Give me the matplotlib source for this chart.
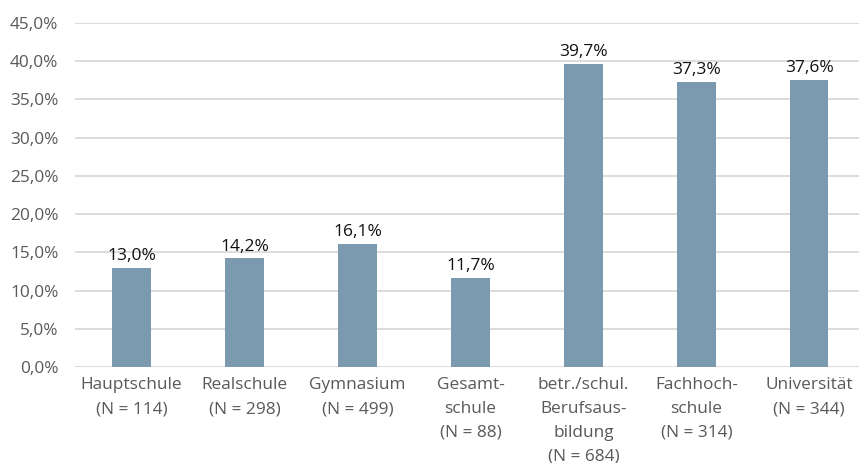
import matplotlib.pyplot as plt
from matplotlib.ticker import FuncFormatter

# Data
categories = ['Hauptschule\n(N = 114)', 'Realschule\n(N = 298)', 'Gymnasium\n(N = 499)',
              'Gesamt-\nschule\n(N = 88)', 'betr./schul.\nBerufsaus-\nbildung\n(N = 684)',
              'Fachhoch-\nschule\n(N = 314)', 'Universität\n(N = 344)']
values = [13.0, 14.2, 16.1, 11.7, 39.7, 37.3, 37.6]
y_ticks = [0, 5, 10, 15, 20, 25, 30, 35, 40, 45]

plt.rcParams['font.family'] = ['Open Sans', 'DejaVu Sans']

fig = plt.figure(figsize=(8.59, 4.63), dpi=100)
ax = fig.add_axes([75 / 859, 1 - 367 / 463, 1 - 75 / 859, (367 - 23) / 463])

x = range(len(values))
ax.bar(x, values, width=0.34, color='#7B9AB0', zorder=3)

# Value labels above bars
for i, v in enumerate(values):
    ax.text(i, v + 0.5, f'{v:.1f}%'.replace('.', ','), ha='center', va='bottom',
            fontsize=12.5, color='#111111')

ax.set_ylim(0, 45)
ax.set_xlim(-0.5, 6.44)
ax.set_yticks(y_ticks)
ax.yaxis.set_major_formatter(FuncFormatter(lambda v, p: f'{v:.1f}%'.replace('.', ',')))
ax.grid(axis='y', color='#D9D9D9', linewidth=1.3, zorder=0)

ax.set_xticks(list(x))
ax.set_xticklabels(categories, linespacing=1.64)
ax.tick_params(axis='both', length=0, labelsize=12.4, labelcolor='#595959')
ax.tick_params(axis='y', pad=12)
ax.tick_params(axis='x', pad=7.5)

for s in ax.spines.values():
    s.set_visible(False)

fig.savefig('out.png', dpi=100)
